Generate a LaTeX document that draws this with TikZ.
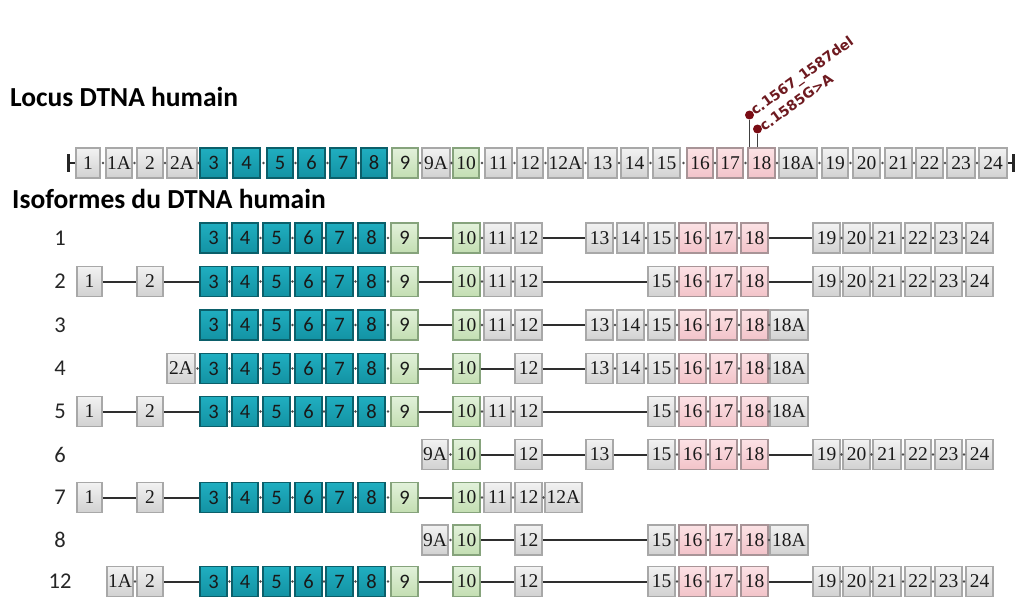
\documentclass[tikz,border=0pt]{standalone}
\usepackage{fontspec}
\setmainfont{Liberation Serif}
\newfontfamily\carl{Carlito}
\newfontfamily\dvsans{DejaVu Sans}
\definecolor{tealA}{HTML}{20AEC0}
\definecolor{tealB}{HTML}{1392A3}
\definecolor{tealD}{HTML}{0B5F6A}
\definecolor{grnA}{HTML}{E2F1DA}
\definecolor{grnB}{HTML}{C3DEB2}
\definecolor{grnD}{HTML}{86A37C}
\definecolor{pnkA}{HTML}{FCE2E5}
\definecolor{pnkB}{HTML}{F2C3C9}
\definecolor{pnkD}{HTML}{A89497}
\definecolor{mutred}{HTML}{7A0C14}
\definecolor{mutlab}{HTML}{6E1A20}
\tikzset{
  exon/.style={rectangle, minimum height=30pt, inner sep=0pt, line width=1.5pt,
    font=\fontsize{19.5}{20}\selectfont, text=black!90},
  kind/.style={#1},
  gry/.style={top color=gray!10, bottom color=gray!36, draw=gray!68},
  tea/.style={top color=tealA, bottom color=tealB, draw=tealD, font=\carl\fontsize{20.5}{20}\selectfont},
  grn/.style={top color=grnA, bottom color=grnB, draw=grnD},
  grs/.style={grn, font=\carl\fontsize{20.5}{20}\selectfont},
  pnk/.style={top color=pnkA, bottom color=pnkB, draw=pnkD},
  intron/.style={line width=2pt, draw=black!82},
  dotn/.style={circle, fill=black!70, inner sep=0pt, minimum size=2.6pt},
  rowlab/.style={font=\carl\fontsize{22.5}{22}\selectfont, text=black!85, inner sep=0pt},
  title/.style={font=\carl\bfseries\fontsize{27.5}{30}\selectfont, anchor=base west, inner sep=0pt},
  mut/.style={circle, fill=mutred, inner sep=0pt, minimum size=9pt},
  stem/.style={line width=1.3pt, draw=black!75},
  mutlabel/.style={font=\dvsans\bfseries\fontsize{14}{15}\selectfont, text=mutlab, inner sep=0pt, anchor=base west, rotate=36},
  endbar/.style={line width=3pt, draw=black!85},
  endline/.style={line width=1.5pt, draw=black!85}
}
\newcommand\exonrow[4]{%
  \foreach \n/\s [count=\i] in {#4} {
    \pgfmathsetmacro\cx{\csname #3L\n\endcsname + 0.5*\csname #3W\n\endcsname}
    \node[exon, kind/.expand once=\s, minimum width=\csname #3W\n\endcsname pt] (#2-\n) at (\cx,#1) {\n};
    \ifnum\i>1
      \pgfmathsetmacro\gap{\csname #3L\n\endcsname - \prevR}
      \ifdim\gap pt<9pt
        \path (#2-\prevN.east) -- (#2-\n.west) node[midway, dotn] {};
      \else
        \draw[intron] (#2-\prevN.east) -- (#2-\n.west);
      \fi
    \fi
    \pgfmathsetmacro\rr{\csname #3L\n\endcsname + \csname #3W\n\endcsname}
    \global\let\prevR\rr
    \xdef\prevN{\n}
  }%
}
\begin{document}
\begin{tikzpicture}[x=1pt, y=-1pt]
\useasboundingbox (0,0) rectangle (1018,597);
% isoform columns
\foreach \n/\l/\w in {1/77/25, 1A/107/26, 2/137/26, 2A/167/28, 3/200/27, 4/232/26, 5/263/27, 6/295/27, 7/326/27, 8/358/27, 9/391/27, 9A/422/26, 10/453/27, 11/484/27, 12/515/27, 12A/545/37, 13/586/27, 14/617/27, 15/648/27, 16/679/27, 17/710/27, 18/741/27, 18A/770/38, 19/813/27, 20/843/27, 21/873/28, 22/905/26, 23/935/27, 24/966/27}
  {\expandafter\xdef\csname IL\n\endcsname{\l}\expandafter\xdef\csname IW\n\endcsname{\w}}
% locus columns
\foreach \n/\l/\w in {1/76/24, 1A/106/26, 2/137/26, 2A/167/30, 3/200/27, 4/233/27, 5/267/26, 6/298/27, 7/330/26, 8/361/26, 9/392/26, 9A/422/28, 10/453/26, 11/485/27, 12/517/26, 12A/548/35, 13/588/29, 14/621/27, 15/653/27, 16/687/26, 17/717/26, 18/748/27, 18A/779/38, 19/822/26, 20/853/27, 21/885/27, 22/916/27, 23/947/28, 24/979/28}
  {\expandafter\xdef\csname LL\n\endcsname{\l}\expandafter\xdef\csname LW\n\endcsname{\w}}

% titles
\node[title] (t1) at (10,106) {Locus DTNA humain};
\node[title] (t2) at (12,208) {Isoformes du DTNA humain};

% locus
\exonrow{163}{L}{L}{1/gry, 1A/gry, 2/gry, 2A/gry, 3/tea, 4/tea, 5/tea, 6/tea, 7/tea, 8/tea, 9/grs, 9A/gry, 10/grn, 11/gry, 12/gry, 12A/gry, 13/gry, 14/gry, 15/gry, 16/pnk, 17/pnk, 18/pnk, 18A/gry, 19/gry, 20/gry, 21/gry, 22/gry, 23/gry, 24/gry}
\coordinate (lend) at (68,163);
\coordinate (rend) at (1013,163);
\draw[endline] (lend) -- (L-1.west);
\draw[endline] (L-24.east) -- (rend);
\draw[endbar] (lend) ++(0,-9) -- ++(0,18);
\draw[endbar] (rend) ++(0,-9) -- ++(0,18);

% mutations
\node[mut] (m1) at (749.5,115) {};
\node[mut] (m2) at (757.5,129) {};
\draw[stem] (m1) -- (m1 |- L-18.north);
\draw[stem] (m2) -- (m2 |- L-18.north);
\node[mutlabel] (ml1) at (755,116) {c.1567\_1587del};
\node[mutlabel] (ml2) at (764,132) {c.1585G>A};

% row labels
\foreach \lab/\y in {1/238, 2/281.5, 3/325, 4/368.5, 5/411.5, 6/454.5, 7/497.5, 8/540, 12/581.5}
  \node[rowlab] (lab\lab) at (60,\y) {\lab};

% isoforms
\exonrow{238}{r1}{I}{3/tea, 4/tea, 5/tea, 6/tea, 7/tea, 8/tea, 9/grs, 10/grn, 11/gry, 12/gry, 13/gry, 14/gry, 15/gry, 16/pnk, 17/pnk, 18/pnk, 19/gry, 20/gry, 21/gry, 22/gry, 23/gry, 24/gry}
\exonrow{281.5}{r2}{I}{1/gry, 2/gry, 3/tea, 4/tea, 5/tea, 6/tea, 7/tea, 8/tea, 9/grs, 10/grn, 11/gry, 12/gry, 15/gry, 16/pnk, 17/pnk, 18/pnk, 19/gry, 20/gry, 21/gry, 22/gry, 23/gry, 24/gry}
\exonrow{325}{r3}{I}{3/tea, 4/tea, 5/tea, 6/tea, 7/tea, 8/tea, 9/grs, 10/grn, 11/gry, 12/gry, 13/gry, 14/gry, 15/gry, 16/pnk, 17/pnk, 18/pnk, 18A/gry}
\exonrow{368.5}{r4}{I}{2A/gry, 3/tea, 4/tea, 5/tea, 6/tea, 7/tea, 8/tea, 9/grs, 10/grn, 12/gry, 13/gry, 14/gry, 15/gry, 16/pnk, 17/pnk, 18/pnk, 18A/gry}
\exonrow{411.5}{r5}{I}{1/gry, 2/gry, 3/tea, 4/tea, 5/tea, 6/tea, 7/tea, 8/tea, 9/grs, 10/grn, 11/gry, 12/gry, 15/gry, 16/pnk, 17/pnk, 18/pnk, 18A/gry}
\exonrow{454.5}{r6}{I}{9A/gry, 10/grn, 12/gry, 13/gry, 15/gry, 16/pnk, 17/pnk, 18/pnk, 19/gry, 20/gry, 21/gry, 22/gry, 23/gry, 24/gry}
\exonrow{497.5}{r7}{I}{1/gry, 2/gry, 3/tea, 4/tea, 5/tea, 6/tea, 7/tea, 8/tea, 9/grs, 10/grn, 11/gry, 12/gry, 12A/gry}
\exonrow{540}{r8}{I}{9A/gry, 10/grn, 12/gry, 15/gry, 16/pnk, 17/pnk, 18/pnk, 18A/gry}
\exonrow{581.5}{r12}{I}{1A/gry, 2/gry, 3/tea, 4/tea, 5/tea, 6/tea, 7/tea, 8/tea, 9/grs, 10/grn, 12/gry, 15/gry, 16/pnk, 17/pnk, 18/pnk, 19/gry, 20/gry, 21/gry, 22/gry, 23/gry, 24/gry}
\end{tikzpicture}
\end{document}
